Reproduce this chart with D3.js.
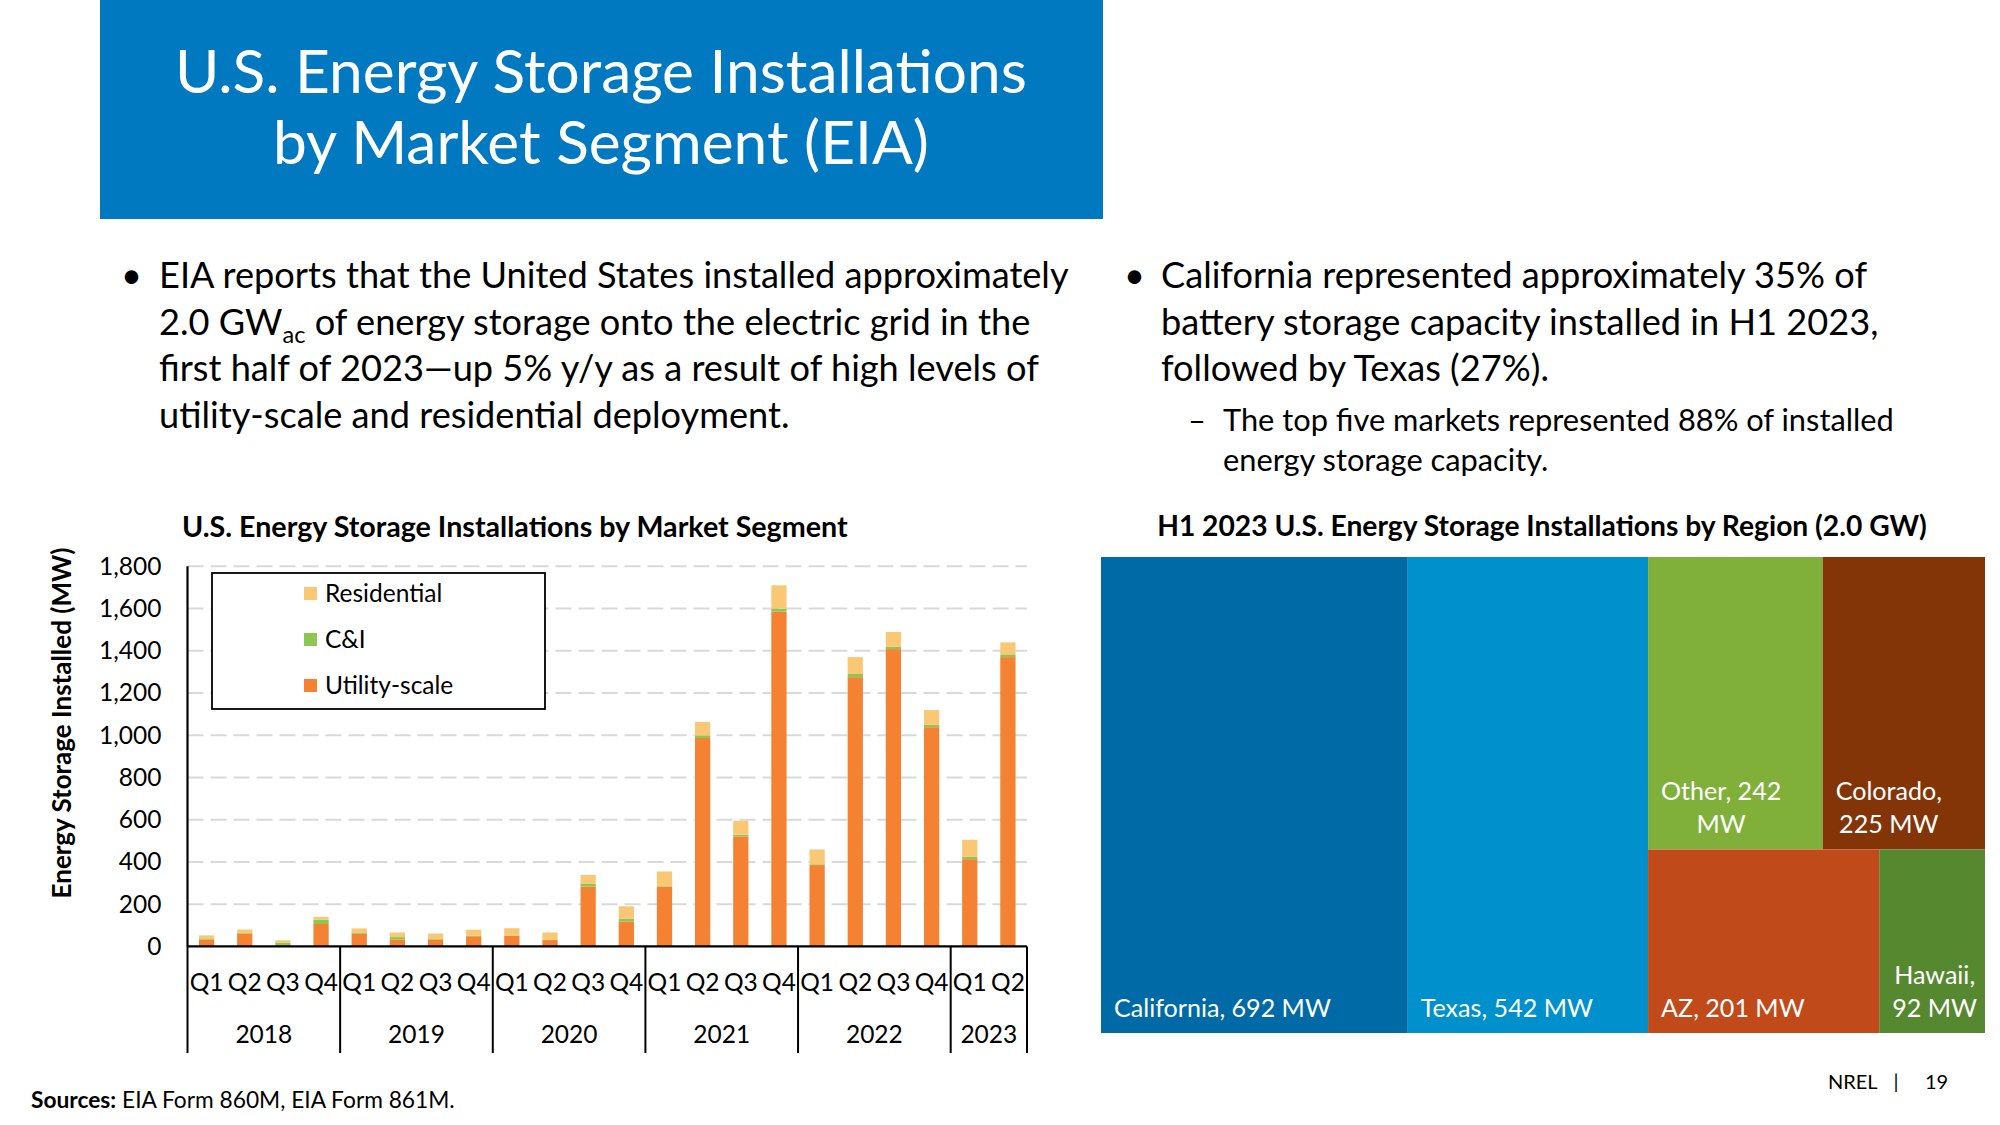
<!DOCTYPE html>
<html><head><meta charset="utf-8">
<script src="https://cdn.jsdelivr.net/npm/d3@7"></script>
<style>
body{margin:0;background:#fff}
svg{display:block}
text{font-family:Lato,'Open Sans',sans-serif}
</style>
</head><body>
<svg id="c" width="2000" height="1125"></svg>
<script>
// ---------------- DATA ----------------
const quarterLabels = ["Q1","Q2","Q3","Q4","Q1","Q2","Q3","Q4","Q1","Q2","Q3","Q4","Q1","Q2","Q3","Q4","Q1","Q2","Q3","Q4","Q1","Q2"];
const yearLabels = ["2018","2019","2020","2021","2022","2023"];
const quartersPerYear = [4,4,4,4,4,2];
const utilityScale = [33,60,6,106,60,32,32,48,50,30,283,118,282,987,521,1585,385,1275,1408,1038,413,1370];
const commercialIndustrial = [5,3,12,20,6,12,3,3,2,2,15,14,3,12,8,15,4,15,12,11,11,13];
const residential = [14,17,11,14,19,22,26,28,34,34,40,58,70,64,66,110,70,80,69,70,81,57];
const seriesNames = ["Utility-scale","C&I","Residential"];
const yTickValues = [0,200,400,600,800,1000,1200,1400,1600,1800];

const regionNames = ["California","Texas","Other","Colorado","AZ","Hawaii"];
const regionMW = [692,542,242,225,201,92];

// ---------------- STYLE ----------------
const seriesColors = {"Utility-scale":"#F58232","C&I":"#8DC653","Residential":"#FAC775"};
const regionColors = {"California":"#006AA6","Texas":"#0090CC","Other":"#80B03A","Colorado":"#833508","AZ":"#C14A1A","Hawaii":"#55882F"};
const FONT = "Lato, 'Open Sans', sans-serif";

const svg = d3.select("#c");

function fitTo(sel, w){
  const l = sel.node().getComputedTextLength();
  const fs = parseFloat(sel.attr("font-size"));
  const nf = fs * w / l;
  sel.attr("font-size", nf);
  return nf;
}

// ---------------- HEADER ----------------
svg.append("rect").attr("x",100).attr("y",0).attr("width",1003).attr("height",219).attr("fill","#0079C1");
const h1 = svg.append("text").attr("x",601).attr("y",93).attr("text-anchor","middle").attr("fill","#fff")
  .attr("font-size",60).text("U.S. Energy Storage Installations");
const hfs = fitTo(h1, 852);
svg.append("text").attr("x",601).attr("y",164).attr("text-anchor","middle").attr("fill","#fff")
  .attr("font-size",hfs).text("by Market Segment (EIA)");

// ---------------- BULLETS ----------------
const leftLines = [
  ["EIA reports that the United States installed approximately"],
  ["2.0 GW","ac"," of energy storage onto the electric grid in the"],
  ["first half of 2023\u2014up 5% y/y as a result of high levels of"],
  ["utility-scale and residential deployment."]
];
const lb = [288,335,381,428];
const lt = svg.append("g").attr("fill","#000");
const lfirst = lt.append("text").attr("x",159).attr("y",lb[0]).attr("font-size",30).text(leftLines[0][0]);
const bfs = fitTo(lfirst, 910);
leftLines.slice(1).forEach((parts,i)=>{
  const t = lt.append("text").attr("x",159).attr("y",lb[i+1]).attr("font-size",bfs);
  if(parts.length===1){ t.text(parts[0]); }
  else {
    t.append("tspan").text(parts[0]);
    t.append("tspan").attr("font-size",bfs*0.65).attr("dy",bfs*0.22).text(parts[1]);
    t.append("tspan").attr("dy",-bfs*0.22).text(parts[2]);
  }
});
lt.append("text").attr("x",121).attr("y",lb[0]).attr("font-size",bfs).text("\u2022");

const rightLines = ["California represented approximately 35% of","battery storage capacity installed in H1 2023,","followed by Texas (27%)."];
const rt = svg.append("g").attr("fill","#000");
rightLines.forEach((s,i)=>{
  rt.append("text").attr("x",1161).attr("y",lb[i]).attr("font-size",bfs).text(s);
});
rt.append("text").attr("x",1124).attr("y",lb[0]).attr("font-size",bfs).text("\u2022");
const subLines = ["The top five markets represented 88% of installed","energy storage capacity."];
const sub1 = rt.append("text").attr("x",1223).attr("y",431).attr("font-size",26).text(subLines[0]);
const sfs = fitTo(sub1, 671);
rt.append("text").attr("x",1223).attr("y",471).attr("font-size",sfs).text(subLines[1]);
rt.append("text").attr("x",1188).attr("y",431).attr("font-size",sfs).text("\u2013");

// ---------------- BAR CHART ----------------
const plotL = 187.5, plotR = 1027, plotT = 566.3, plotB = 946.4;
const ct = svg.append("text").attr("x",182).attr("y",537).attr("font-weight",700).attr("font-size",26)
  .text("U.S. Energy Storage Installations by Market Segment");
fitTo(ct, 666);

const rows = utilityScale.map((u,i)=>({idx:i,"Utility-scale":u,"C&I":commercialIndustrial[i],"Residential":residential[i]}));
const x = d3.scaleBand().domain(d3.range(rows.length)).range([plotL,plotR]).paddingInner(0.6).paddingOuter(0.3);
const y = d3.scaleLinear().domain([0,1800]).range([plotB,plotT]);

// gridlines
svg.append("g").selectAll("line").data(yTickValues.filter(d=>d>0)).join("line")
  .attr("x1",plotL).attr("x2",plotR).attr("y1",d=>y(d)).attr("y2",d=>y(d))
  .attr("stroke","#D9D9D9").attr("stroke-width",2).attr("stroke-dasharray","16 7");

// bars
const stacked = d3.stack().keys(seriesNames)(rows);
svg.append("g").selectAll("g").data(stacked).join("g").attr("fill",d=>seriesColors[d.key])
  .selectAll("rect").data(d=>d).join("rect")
  .attr("x",d=>x(d.data.idx)).attr("width",x.bandwidth())
  .attr("y",d=>y(d[1])).attr("height",d=>y(d[0])-y(d[1]));

// y axis
const gy = svg.append("g").attr("transform",`translate(${plotL},0)`)
  .call(d3.axisLeft(y).tickValues(yTickValues).tickFormat(d3.format(",")).tickSize(0).tickPadding(26));
gy.select(".domain").remove();
gy.selectAll("text").attr("font-size",24.5).attr("font-family",FONT).attr("fill","#000");

const yt = svg.append("text").attr("transform","translate(71,723) rotate(-90)").attr("text-anchor","middle")
  .attr("font-weight",700).attr("font-size",24).text("Energy Storage Installed (MW)");
fitTo(yt, 351);

// x axis (quarters)
const gx = svg.append("g").attr("transform",`translate(0,${plotB})`)
  .call(d3.axisBottom(x).tickFormat(i=>quarterLabels[i]).tickSize(0).tickPadding(0));
gx.select(".domain").remove();
gx.selectAll("text").attr("y",36).attr("dy","0.35em").attr("font-size",24.5).attr("font-family",FONT).attr("fill","#000");

// year dividers and labels
const bounds = [0]; quartersPerYear.forEach(n=>bounds.push(bounds[bounds.length-1]+n));
const step = x.step(), x0 = x.range()[0];
svg.append("g").selectAll("line").data(bounds).join("line")
  .attr("x1",b=>x0+b*step).attr("x2",b=>x0+b*step).attr("y1",plotB).attr("y2",1053)
  .attr("stroke","#000").attr("stroke-width",2);
svg.append("g").selectAll("text").data(yearLabels).join("text")
  .attr("x",(d,i)=>x0+(bounds[i]+bounds[i+1])/2*step).attr("y",1043)
  .attr("text-anchor","middle").attr("font-size",24.5).text(d=>d);

// axis lines
svg.append("line").attr("x1",plotL).attr("x2",plotR).attr("y1",plotB).attr("y2",plotB).attr("stroke","#000").attr("stroke-width",2.2);
svg.append("line").attr("x1",plotL).attr("x2",plotL).attr("y1",plotT).attr("y2",plotB).attr("stroke","#000").attr("stroke-width",2.2);

// legend
svg.append("rect").attr("x",212).attr("y",573).attr("width",333).attr("height",136)
  .attr("fill","#fff").attr("stroke","#000").attr("stroke-width",1.8);
const legendOrder = seriesNames.slice().reverse();
const lg = svg.append("g").selectAll("g").data(legendOrder).join("g")
  .attr("transform",(d,i)=>`translate(304,${594+i*46})`);
lg.append("rect").attr("x",0).attr("y",-7).attr("width",13).attr("height",13).attr("fill",d=>seriesColors[d]);
lg.append("text").attr("x",21).attr("y",8).attr("font-size",24.5).text(d=>d);

// ---------------- TREEMAP ----------------
const tmX = 1101, tmY = 557, tmW = 884, tmH = 476;
const tt = svg.append("text").attr("x",tmX+tmW/2-1).attr("y",536).attr("text-anchor","middle")
  .attr("font-weight",700).attr("font-size",24).text("H1 2023 U.S. Energy Storage Installations by Region (2.0 GW)");
fitTo(tt, 770);

const root = d3.hierarchy({children: regionNames.map((n,i)=>({name:n, value:regionMW[i]}))})
  .sum(d=>d.value||0).sort((a,b)=>b.value-a.value);
d3.treemap().tile(d3.treemapSquarify.ratio(1)).size([tmW,tmH]).round(false)(root);

const tg = svg.append("g").attr("transform",`translate(${tmX},${tmY})`);
const leaf = tg.selectAll("g").data(root.leaves()).join("g");
leaf.append("rect").attr("x",d=>d.x0).attr("y",d=>d.y0)
  .attr("width",d=>d.x1-d.x0).attr("height",d=>d.y1-d.y0).attr("fill",d=>regionColors[d.data.name]);

// label font size fitted to reference width of the California label
const probe = tg.append("text").attr("font-size",24).text("California, 692 MW");
const lfs = fitTo(probe, 217);
probe.remove();
const pad = 13, wrapPad = 10, lineH = 33;
leaf.each(function(d){
  const g = d3.select(this);
  const words = `${d.data.name}, ${d.data.value} MW`.split(" ");
  const maxW = (d.x1-d.x0) - 2*wrapPad;
  const meas = g.append("text").attr("font-size",lfs);
  const width = s => { meas.text(s); return meas.node().getComputedTextLength(); };
  const lines = [];
  let cur = "";
  words.forEach(w=>{
    const test = cur ? cur+" "+w : w;
    if(cur && width(test) > maxW){ lines.push(cur); cur = w; } else cur = test;
  });
  lines.push(cur);
  const widths = lines.map(width);
  meas.remove();
  const blockW = d3.max(widths);
  lines.forEach((s,i)=>{
    g.append("text").attr("font-size",lfs).attr("fill","#fff")
      .attr("x", d.x0 + pad + (blockW-widths[i])/2)
      .attr("y", d.y1 - 25 - (lines.length-1-i)*lineH).attr("dy","0.35em")
      .text(s);
  });
});

// ---------------- FOOTER ----------------
const ft = svg.append("text").attr("x",31).attr("y",1108).attr("font-size",22);
ft.append("tspan").attr("font-weight",700).text("Sources:");
ft.append("tspan").text(" EIA Form 860M, EIA Form 861M.");
fitTo(ft, 424);
svg.append("text").attr("x",1828).attr("y",1089).attr("font-size",20).text("NREL");
svg.append("text").attr("x",1896).attr("y",1089).attr("font-size",20).attr("text-anchor","middle").text("|");
svg.append("text").attr("x",1925).attr("y",1089).attr("font-size",20).text("19");
</script>
</body></html>
